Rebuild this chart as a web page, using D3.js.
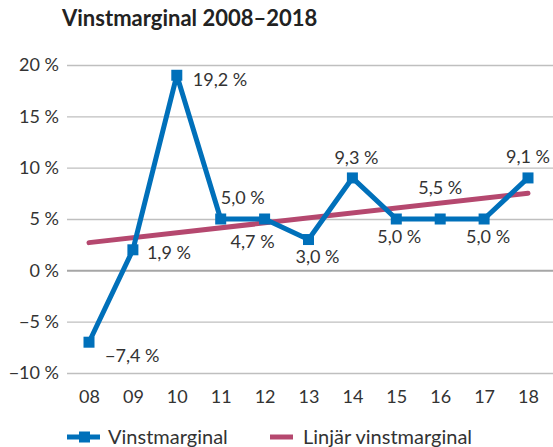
<!DOCTYPE html>
<html><head><meta charset="utf-8">
<script src="https://cdn.jsdelivr.net/npm/d3@7"></script>
<style>body{margin:0;background:#fff;}svg{display:block;font-family:Lato,"Open Sans",sans-serif;}</style>
</head><body><svg id="c" width="553" height="447"></svg>
<script>
const years = ["08","09","10","11","12","13","14","15","16","17","18"];
const plotted = [-7, 2, 19, 5, 5, 3, 9, 5, 5, 5, 9];
const labels = ["−7,4 %","1,9 %","19,2 %","5,0 %","4,7 %","3,0 %","9,3 %","5,0 %","5,5 %","5,0 %","9,1 %"];
const trendYears = ["08","18"];
const trendValues = [2.7, 7.5];
const yTicks = [20, 15, 10, 5, 0, -5, -10];
const yTickLabels = ["20 %","15 %","10 %","5 %","0 %","−5 %","−10 %"];
// label placement: dx, dy, anchor
const labelPos = [[16,13,"start"],[14,3,"start"],[16,4,"start"],[0,-21,"start"],[-12,23,"middle"],[9,17,"middle"],[4,-20,"middle"],[3,18,"middle"],[0,-31,"middle"],[4,18,"middle"],[0,-21,"middle"]];

const svg = d3.select("#c");
const x = d3.scalePoint().domain(years).range([89, 528]);
const y = d3.scaleLinear().domain([-10, 20]).range([373, 65]);
const blue = "#0070BA", pink = "#B5486F", txt = "#333";

svg.append("text").attr("x", 62).attr("y", 26).attr("font-size", 22).attr("font-weight", "bold").attr("fill", "#222").text("Vinstmarginal 2008–2018");

const yAxis = d3.axisLeft(y).tickValues(yTicks).tickSize(-(553-67)).tickFormat((d,i)=>yTickLabels[i]);
const gy = svg.append("g").attr("transform","translate(67,0)").call(yAxis);
gy.select(".domain").remove();
gy.selectAll(".tick line").attr("stroke", d => d===0 ? "#A6A6A6" : "#BFBFBF").attr("stroke-width", d => d===0 ? 2 : 1.3);
gy.selectAll(".tick text").attr("x", -8).attr("font-size", 18).attr("fill", txt).attr("font-family","Lato,sans-serif");

const xAxis = d3.axisBottom(x).tickSize(0).tickPadding(0);
const gx = svg.append("g").attr("transform","translate(0,397)").call(xAxis);
gx.select(".domain").remove();
gx.selectAll(".tick text").attr("font-size", 18).attr("fill", txt).attr("dy", "0.35em").attr("font-family","Lato,sans-serif");

// trend
svg.append("path").datum(trendYears.map((d,i)=>[d,trendValues[i]]))
  .attr("d", d3.line().x(d=>x(d[0])).y(d=>y(d[1])))
  .attr("fill","none").attr("stroke",pink).attr("stroke-width",5).attr("stroke-linecap","round");

// main line
svg.append("path").datum(years.map((d,i)=>[d,plotted[i]]))
  .attr("d", d3.line().x(d=>x(d[0])).y(d=>y(d[1])))
  .attr("fill","none").attr("stroke",blue).attr("stroke-width",5).attr("stroke-linejoin","round");
svg.selectAll("rect.m").data(years).join("rect").attr("class","m")
  .attr("x", d=>x(d)-5.5).attr("y",(d,i)=>y(plotted[i])-5.5).attr("width",11).attr("height",11).attr("fill",blue);

svg.selectAll("text.dl").data(years).join("text").attr("class","dl")
  .attr("x",(d,i)=>x(d)+labelPos[i][0]).attr("y",(d,i)=>y(plotted[i])+labelPos[i][1])
  .attr("text-anchor",(d,i)=>labelPos[i][2]).attr("dy","0.35em")
  .attr("font-size",18).attr("fill",txt).text((d,i)=>labels[i]);

// legend
const lg = svg.append("g").attr("transform","translate(0,437)");
lg.append("line").attr("x1",67).attr("x2",100).attr("stroke",blue).attr("stroke-width",5);
lg.append("rect").attr("x",79).attr("y",-5.5).attr("width",11).attr("height",11).attr("fill",blue);
lg.append("text").attr("x",108).attr("dy","0.35em").attr("font-size",20).attr("fill",txt).text("Vinstmarginal");
lg.append("line").attr("x1",270).attr("x2",293).attr("stroke",pink).attr("stroke-width",5);
lg.append("text").attr("x",303).attr("dy","0.35em").attr("font-size",20).attr("fill",txt).text("Linjär vinstmarginal");
</script></body></html>
